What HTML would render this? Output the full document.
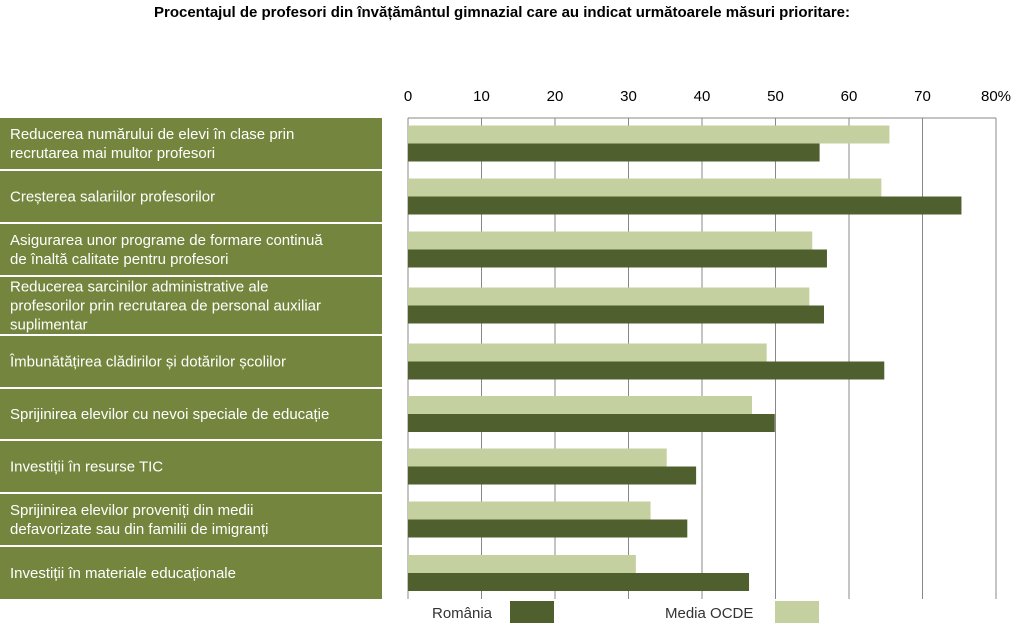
<!DOCTYPE html>
<html><head><meta charset="utf-8"><style>
body{margin:0;width:1024px;height:628px;background:#fff;overflow:hidden;font-family:"Liberation Sans",sans-serif}
</style></head><body>
<svg width="1024" height="628" xmlns="http://www.w3.org/2000/svg">
<text x="502" y="17" text-anchor="middle" font-size="15" font-weight="bold" fill="#000">Procentajul de profesori din învățământul gimnazial care au indicat următoarele măsuri prioritare:</text>
<g id="grid"></g><g id="labels"></g><g id="bars"></g>
<g>
<text x="432" y="618" font-size="15" fill="#333">România</text>
<rect x="510" y="601" width="44" height="22" fill="#4f5f2d"/>
<text x="665" y="618" font-size="15" fill="#333">Media OCDE</text>
<rect x="775" y="601" width="44" height="22" fill="#c4d09f"/>
</g>
</svg>
<script>
const categories=[["Reducerea numărului de elevi în clase prin","recrutarea mai multor profesori"],["Creșterea salariilor profesorilor"],["Asigurarea unor programe de formare continuă","de înaltă calitate pentru profesori"],["Reducerea sarcinilor administrative ale","profesorilor prin recrutarea de personal auxiliar","suplimentar"],["Îmbunătățirea clădirilor și dotărilor școlilor"],["Sprijinirea elevilor cu nevoi speciale de educație"],["Investiții în resurse TIC"],["Sprijinirea elevilor proveniți din medii","defavorizate sau din familii de imigranți"],["Investiții în materiale educaționale"]];
const ocde=[65.5,64.4,55.0,54.6,48.8,46.8,35.2,33.0,31.0];
const romania=[56.0,75.3,57.0,56.6,64.8,49.9,39.2,38.0,46.4];
const ticks=[0,10,20,30,40,50,60,70,80];
const rowTops=[118,171,224,277,336,389,441,494,547];
const rowBottoms=[169,222,275,334,387,439,492,545,599];
const ns="http://www.w3.org/2000/svg";
const x0=408,pxPer=73.5,plotTop=118,plotBottom=599;
const xs=v=>x0+v*pxPer/10;
function mk(t,a,p){const e=document.createElementNS(ns,t);for(const k in a)e.setAttribute(k,a[k]);p.appendChild(e);return e;}
const grid=document.getElementById('grid'),labels=document.getElementById('labels'),bars=document.getElementById('bars');
mk('line',{x1:x0,x2:xs(80),y1:plotTop,y2:plotTop,stroke:'#888'},grid);
ticks.forEach((t,i)=>{
 const l=mk('line',{x1:xs(t),x2:xs(t),y1:plotTop,y2:plotBottom,stroke:'#888'},grid);
 
 
 const tx=mk('text',{x:xs(t),y:101,'text-anchor':'middle','font-size':15,fill:'#000'},grid);
 tx.textContent=t+(i===ticks.length-1?'%':'');
 
 
});
categories.forEach((c,i)=>{
 const top=rowTops[i],bot=rowBottoms[i],h=bot-top;
 const r=mk('rect',{x:0,y:top,width:382,height:h,fill:'#74863d'},labels);
 
 
 const n=c.length,lh=19,start=top+h/2-(n-1)*lh/2+5;
 c.forEach((line,j)=>{const t=mk('text',{x:10,y:start+j*lh,'font-size':15,fill:'#fff'},labels);t.textContent=line;});
 const mid=top+h/2;
 const b1=mk('rect',{x:x0,y:mid-18,width:xs(ocde[i])-x0,height:18,fill:'#c4d09f'},bars);
 
 
 const b2=mk('rect',{x:x0,y:mid,width:xs(romania[i])-x0,height:18,fill:'#4f5f2d'},bars);
 
 
});
</script>
</body></html>
